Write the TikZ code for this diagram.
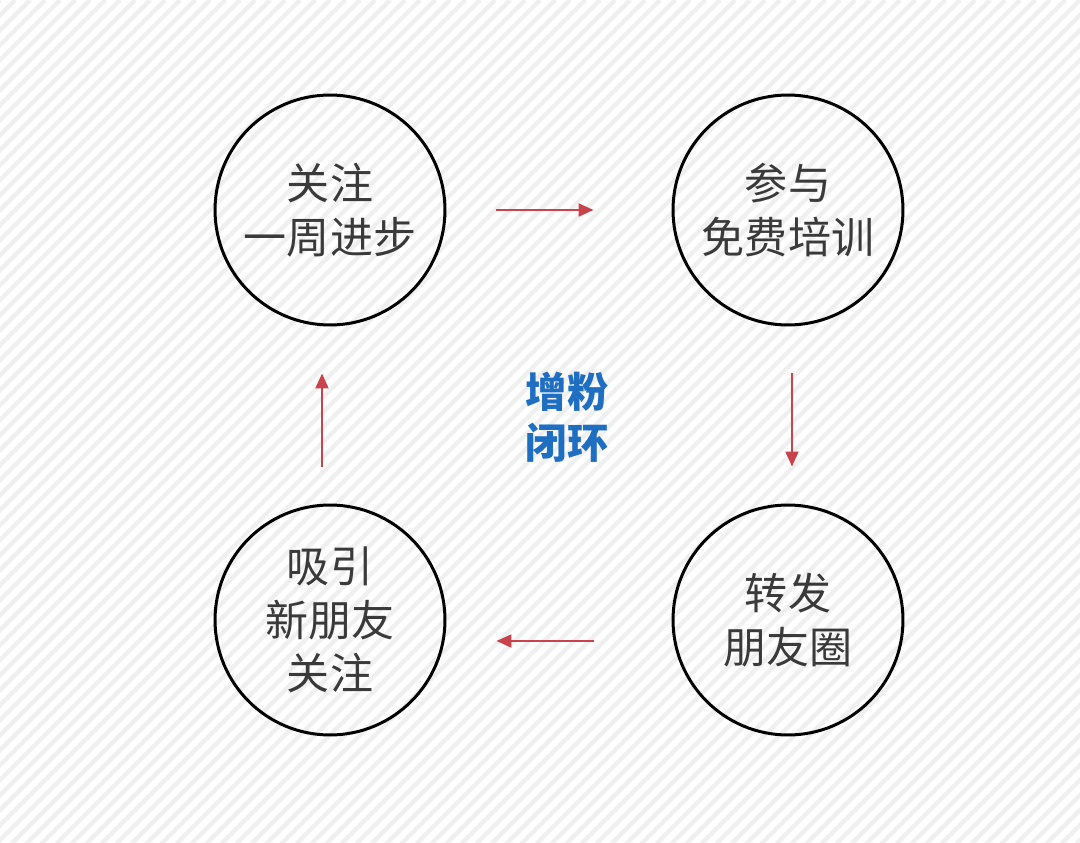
\documentclass[tikz,border=0pt]{standalone}
\usepackage{fontspec}
\usetikzlibrary{arrows.meta, calc}
\newfontfamily\cjk{Noto Sans CJK SC}
\definecolor{bgline}{HTML}{EFEFEF}
\definecolor{txtgray}{HTML}{3A3A3A}
\definecolor{arrowred}{HTML}{C9434D}
\definecolor{hubblue}{HTML}{1E6EC2}
\tikzset{
  stripe/.style = {draw=bgline, line width=0.085cm},
  stage/.style  = {circle, draw=black, line width=0.06cm, minimum size=4.6cm,
                   align=center, text=txtgray,
                   font=\cjk\fontsize{24.5}{30.6}\selectfont},
  hub/.style    = {align=center, text=hubblue,
                   font=\cjk\bfseries\fontsize{23.5}{29}\selectfont},
  flow/.style   = {-{Triangle[length=0.3cm, width=0.26cm]}, draw=arrowred,
                   fill=arrowred, line width=0.04cm},
}

\begin{document}
\begin{tikzpicture}[x=0.02cm, y=-0.02cm]

% =========================================================================
% Fondo rayado
% =========================================================================
\fill[white] (0,0) rectangle (1080,843);
\useasboundingbox (0,0) rectangle (1080,843);
\begin{scope}
  \clip (0,0) rectangle (1080,843);
  \foreach \i in {0,...,130}
    \draw[stripe] (\i*15,0) -- ++(-860,860);
\end{scope}

% =========================================================================
% Etapas
% =========================================================================
\node[stage] (tl) at (330,210) {关注\\一周进步};
\node[stage] (tr) at (788,210) {参与\\免费培训};
\node[stage] (br) at (788,620) {转发\\朋友圈};
\node[stage] (bl) at (330,620) {吸引\\新朋友\\关注};

\node[hub] (core) at (567,417) {增粉\\闭环};

% =========================================================================
% Flechas
% =========================================================================
\draw[flow, shorten <=1cm, shorten >=1.56cm] (tl.east) -- (tr.west);
\draw[flow, shorten <=0.94cm, shorten >=0.74cm]
  ([xshift=0.08cm]tr.south) -- ([xshift=0.08cm]br.north);
\draw[flow, shorten <=1.56cm, shorten >=1cm]
  ([yshift=-0.42cm]br.west) -- ([yshift=-0.42cm]bl.east);
\draw[flow, shorten <=0.74cm, shorten >=0.94cm]
  ([xshift=-0.16cm]bl.north) -- ([xshift=-0.16cm]tl.south);

\end{tikzpicture}
\end{document}
